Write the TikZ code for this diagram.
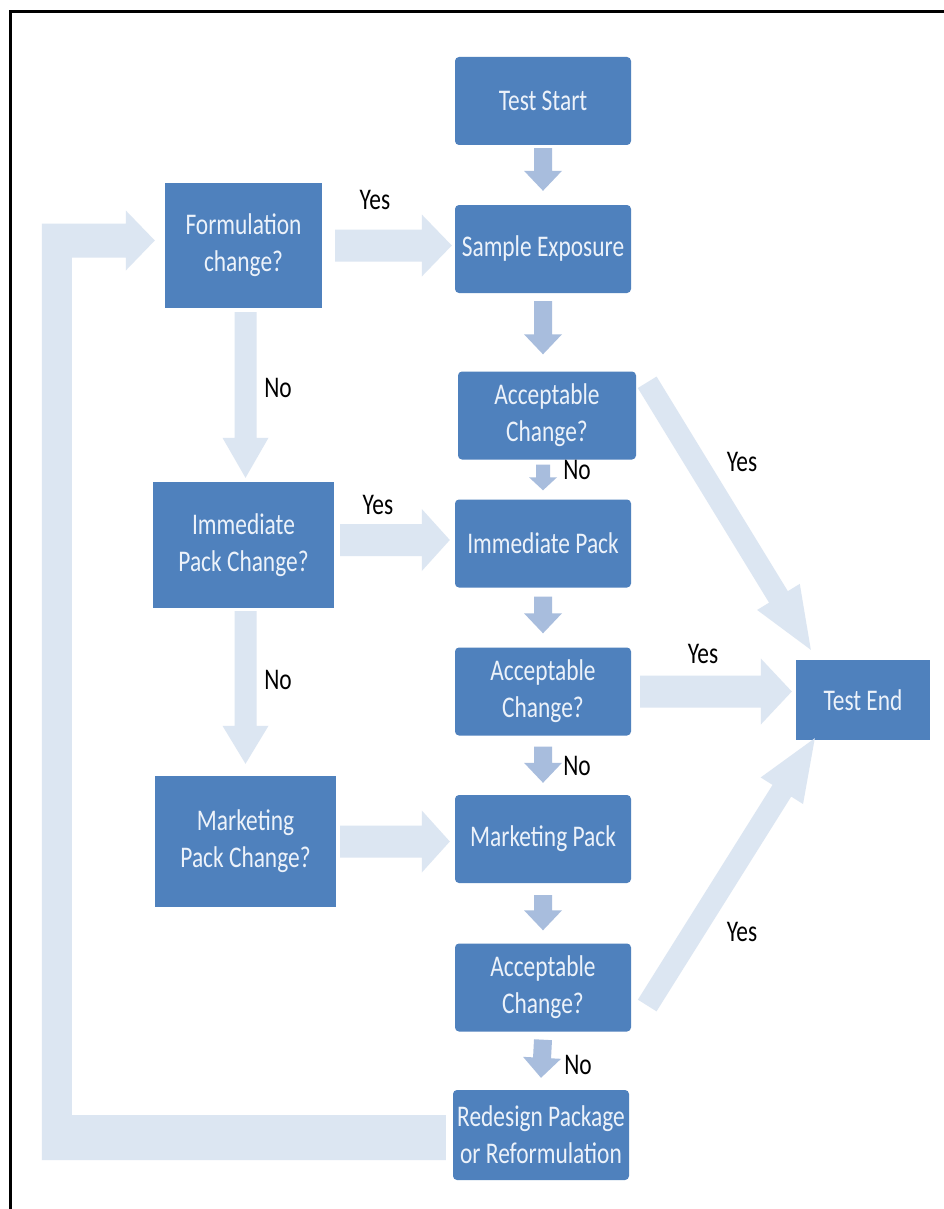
\documentclass[tikz,border=0pt]{standalone}
\usepackage{fontspec}
\setmainfont[FakeStretch=0.78]{Carlito}
\usetikzlibrary{calc}
\definecolor{boxblue}{RGB}{79,129,189}
\definecolor{boxtext}{RGB}{236,242,250}
\definecolor{bigarrow}{RGB}{220,230,242}
\definecolor{smallarrow}{RGB}{168,189,221}
% block arrow: #1 style, #2 start, #3 tip, #4 shaft half width, #5 head half width, #6 head length
\newcommand\barrow[6]{%
  \coordinate (bA) at (#2);
  \coordinate (bB) at (#3);
  \coordinate (bC) at ($(bB)!#6!(bA)$);
  \fill[#1] ($(bA)!#4!90:(bB)$) -- ($(bC)!#4!90:(bB)$) -- ($(bC)!#5!90:(bB)$) -- (bB)
    -- ($(bC)!#5!-90:(bB)$) -- ($(bC)!#4!-90:(bB)$) -- ($(bA)!#4!-90:(bB)$) -- cycle;}
\begin{document}
\begin{tikzpicture}[x=1pt,y=-1pt,
  box/.style={fill=boxblue, text=boxtext, align=center, inner sep=0pt,
    font=\fontsize{30}{37}\selectfont},
  rbox/.style={box, rounded corners=4pt, minimum width=176pt, minimum height=88pt},
  lbox/.style={box, minimum width=181pt, minimum height=126pt},
  lbl/.style={text=black, inner sep=0pt, font=\fontsize{30}{36}\selectfont},
  big/.style={fill=bigarrow},
  small/.style={fill=smallarrow}]
\useasboundingbox (0,0) rectangle (944,1209);
\fill[white] (0,0) rectangle (944,1209);
\draw[line width=3pt] (944,12) -- (10,12) -- (10,1209);

% right column
\node[rbox] (ts) at (543,101) {Test Start};
\node[rbox] (se) at (543,249) {Sample Exposure};
\node[rbox, minimum width=178pt] (ac1) at (547,415.5) {Acceptable\\Change?};
\node[rbox] (ip) at (543,543.5) {Immediate Pack};
\node[rbox] (ac2) at (543,691.5) {Acceptable\\Change?};
\node[rbox] (mp) at (543,839) {Marketing Pack};
\node[rbox] (ac3) at (543,987.5) {Acceptable\\Change?};
\node[rbox, minimum height=90pt] (rd) at (541,1135) {Redesign Package\\or Reformulation};
% end
\node[box, minimum width=134pt, minimum height=80pt] (te) at (863,700) {Test End};
% left column
\node[lbox, minimum width=157pt, minimum height=125pt] (fc) at (243.5,245.5) {Formulation\\change?};
\node[lbox] (ipc) at (243.5,545) {Immediate\\Pack Change?};
\node[lbox, minimum height=131pt] (mpc) at (245.5,841.5) {Marketing\\Pack Change?};

% small down arrows
\barrow{small}{$(ts.south)+(0,3)$}{$(se.north)+(0,-14)$}{9pt}{19pt}{20pt}
\barrow{small}{$(se.south)+(0,8)$}{$(se.south |- ac1.north)+(0,-17)$}{9pt}{19pt}{20pt}
\barrow{small}{$(ac1.south)+(-4,5)$}{$(ip.north)+(0,-9)$}{7pt}{14pt}{13pt}
\barrow{small}{$(ip.south)+(0,9)$}{$(ac2.north)+(0,-14)$}{9pt}{19pt}{20pt}
\barrow{small}{$(ac2.south)+(0,11)$}{$(mp.north)+(0,-12)$}{9pt}{19pt}{20pt}
\barrow{small}{$(mp.south)+(0,12)$}{$(ac3.north)+(0,-13)$}{9pt}{19pt}{20pt}
\barrow{small}{$(ac3.south)+(0,8)$}{$(rd.north)+(0,-12)$}{9pt}{19pt}{20pt}

% big horizontal arrows
\barrow{big}{$(fc.east)+(13,0)$}{$(se.west |- fc.east)+(-3,0)$}{16pt}{31pt}{30pt}
\barrow{big}{$(ipc.east)+(6,-5)$}{$(ip.west |- ipc.east)+(-5,-5)$}{16pt}{31pt}{28pt}
\barrow{big}{$(mpc.east)+(4,0)$}{$(mp.west |- mpc.east)+(-5,0)$}{16pt}{31pt}{28pt}
\barrow{big}{$(ac2.east)+(9,0)$}{$(te.west |- ac2.east)+(-4,0)$}{16pt}{33pt}{31pt}
% big vertical arrows
\barrow{big}{$(fc.south)+(2,4)$}{$(ipc.north)+(2,-4)$}{11pt}{23pt}{40pt}
\barrow{big}{$(ipc.south)+(2,3)$}{$(mpc.north)+(0,-12)$}{11pt}{23pt}{38pt}
% diagonal arrows
\barrow{big}{$(ac1.north east)+(11,11)$}{$(te.north west)+(15,-10)$}{11pt}{25pt}{62pt}
\barrow{big}{$(ac3.east)+(16,18)$}{$(te.south west)+(19,-2)$}{11pt}{25pt}{62pt}

% loop back arrow
\coordinate (lpS) at ($(rd.west)+(-7,2)$);
\coordinate (lpT) at ($(fc.west)+(-10,-5)$);
\fill[big] ($(lpS)+(0,-22)$) -- ($(lpT |- lpS)+(-83,-22)$) -- ($(lpT)+(-83,17)$)
  -- ($(lpT)+(-29,17)$) -- ($(lpT)+(-29,30)$) -- (lpT) -- ($(lpT)+(-29,-30)$)
  -- ($(lpT)+(-29,-17)$) -- ($(lpT)+(-113,-17)$) -- ($(lpT |- lpS)+(-113,23)$)
  -- ($(lpS)+(0,23)$) -- cycle;

% labels
\node[lbl] (y1) at (375,200) {Yes};
\node[lbl] (n1) at (278,388) {No};
\node[lbl] (y2) at (742,462) {Yes};
\node[lbl] (n2) at (577,470) {No};
\node[lbl] (y3) at (378,505) {Yes};
\node[lbl] (y4) at (703,654) {Yes};
\node[lbl] (n3) at (278,680) {No};
\node[lbl] (n4) at (577,766) {No};
\node[lbl] (y5) at (742,932) {Yes};
\node[lbl] (n5) at (578,1065) {No};
\end{tikzpicture}
\end{document}
